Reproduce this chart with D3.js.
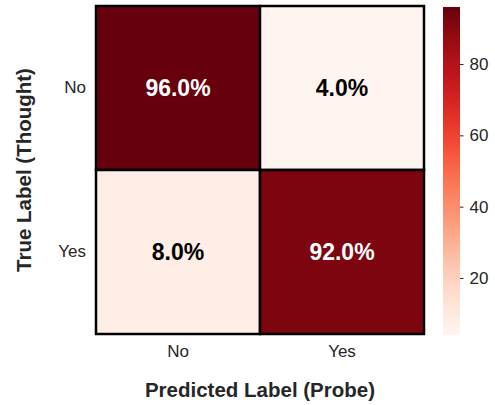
<!DOCTYPE html>
<html>
<head>
<meta charset="utf-8">
<script src="https://cdn.jsdelivr.net/npm/d3@7"></script>
<style>
  body { margin: 0; background: #fff; }
  text { font-family: "Liberation Sans", Arial, sans-serif; }
</style>
</head>
<body>
<div id="chart"></div>
<script>
// Confusion matrix values (percent), rows = true label, cols = predicted
var trueLabels = ["No", "Yes"];
var predLabels = ["No", "Yes"];
var values = [
  [96.0, 4.0],
  [8.0, 92.0]
];
var cbarTicks = [20, 40, 60, 80];

var width = 495, height = 405;
var grid = {left: 96, top: 6, size: 328};
var cbar = {x: 443, y: 7, w: 17, h: 328};

var svg = d3.select("#chart")
  .append("svg")
    .attr("width", width)
    .attr("height", height);

var cells = [];
values.forEach(function(row, i) {
  row.forEach(function(v, j) {
    cells.push({r: trueLabels[i], c: predLabels[j], v: v});
  });
});

var vmin = d3.min(cells, d => d.v), vmax = d3.max(cells, d => d.v);

var x = d3.scaleBand()
  .domain(predLabels)
  .range([grid.left, grid.left + grid.size]);
var y = d3.scaleBand()
  .domain(trueLabels)
  .range([grid.top, grid.top + grid.size]);

var color = d3.scaleSequential(d3.interpolateReds).domain([vmin, vmax]);

// cells
svg.append("g")
  .selectAll("rect")
  .data(cells)
  .join("rect")
    .attr("x", d => x(d.c))
    .attr("y", d => y(d.r))
    .attr("width", x.bandwidth())
    .attr("height", y.bandwidth())
    .attr("fill", d => color(d.v))
    .attr("stroke", "#000")
    .attr("stroke-width", 2.5);

// annotations
svg.append("g")
  .selectAll("text")
  .data(cells)
  .join("text")
    .attr("x", d => x(d.c) + x.bandwidth() / 2)
    .attr("y", d => y(d.r) + y.bandwidth() / 2)
    .attr("dy", "0.35em")
    .attr("text-anchor", "middle")
    .attr("font-size", "23px")
    .attr("font-weight", "bold")
    .attr("fill", d => (d.v - vmin) / (vmax - vmin) > 0.6 ? "#fff" : "#000")
    .text(d => d.v.toFixed(1) + "%");

// axes
var xAxis = svg.append("g")
  .attr("transform", `translate(0,${grid.top + grid.size})`)
  .call(d3.axisBottom(x).tickSize(0).tickPadding(11));
var yAxis = svg.append("g")
  .attr("transform", `translate(${grid.left},0)`)
  .call(d3.axisLeft(y).tickSize(0).tickPadding(10));
[xAxis, yAxis].forEach(function(g) {
  g.select(".domain").remove();
  g.selectAll("text")
    .attr("font-size", "17px")
    .attr("font-family", "Liberation Sans, Arial, sans-serif")
    .attr("fill", "#262626");
});

svg.append("text")
  .attr("x", grid.left + grid.size / 2)
  .attr("y", 397)
  .attr("text-anchor", "middle")
  .attr("font-size", "20.5px")
  .attr("font-weight", "bold")
  .attr("fill", "#262626")
  .text("Predicted Label (Probe)");

svg.append("text")
  .attr("transform", `translate(31,${grid.top + grid.size / 2}) rotate(-90)`)
  .attr("text-anchor", "middle")
  .attr("font-size", "20.5px")
  .attr("font-weight", "bold")
  .attr("fill", "#262626")
  .text("True Label (Thought)");

// colorbar
var defs = svg.append("defs");
var grad = defs.append("linearGradient")
  .attr("id", "cbar-grad")
  .attr("x1", 0).attr("y1", 1).attr("x2", 0).attr("y2", 0);
d3.range(0, 1.0001, 0.05).forEach(function(t) {
  grad.append("stop")
    .attr("offset", t)
    .attr("stop-color", color(vmin + t * (vmax - vmin)));
});

svg.append("rect")
  .attr("x", cbar.x)
  .attr("y", cbar.y)
  .attr("width", cbar.w)
  .attr("height", cbar.h)
  .attr("fill", "url(#cbar-grad)");

var cy = d3.scaleLinear()
  .domain([vmin, vmax])
  .range([cbar.y + cbar.h, cbar.y]);

var cAxis = svg.append("g")
  .attr("transform", `translate(${cbar.x + cbar.w},0)`)
  .call(d3.axisRight(cy).tickValues(cbarTicks).tickSize(3.5).tickPadding(6));
cAxis.select(".domain").remove();
cAxis.selectAll("line").attr("stroke", "#262626");
cAxis.selectAll("text")
  .attr("font-size", "17px")
  .attr("font-family", "Liberation Sans, Arial, sans-serif")
  .attr("fill", "#262626");
</script>
</body>
</html>
